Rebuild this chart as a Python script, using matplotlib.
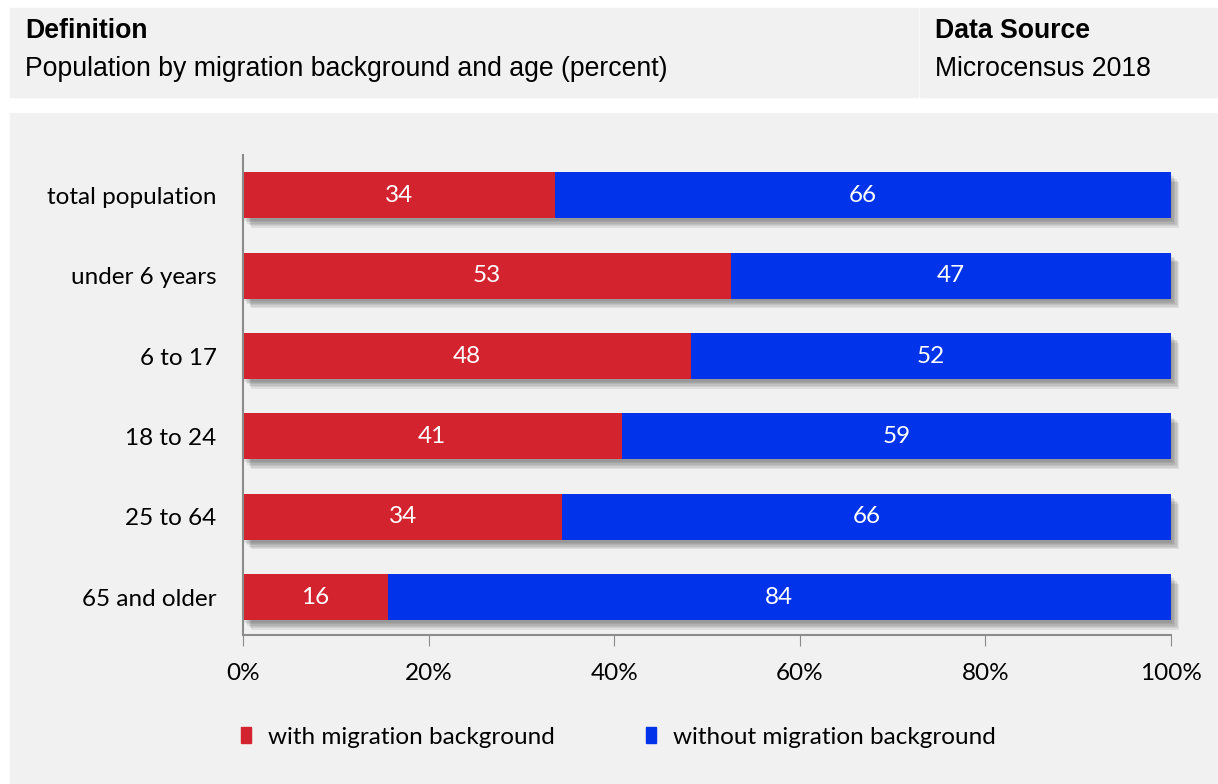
import matplotlib.pyplot as plt
import matplotlib.patheffects as pe
from matplotlib.patches import Rectangle, Patch

categories = ['total population', 'under 6 years', '6 to 17', '18 to 24', '25 to 64', '65 and older']
with_mig = [33.6, 52.6, 48.3, 40.8, 34.4, 15.6]
without_mig = [66.4, 47.4, 51.7, 59.2, 65.6, 84.4]
with_labels = [34, 53, 48, 41, 34, 16]
without_labels = [66, 47, 52, 59, 66, 84]

red = '#D2232E'
blue = '#0033EA'
panel = '#F1F1F1'

fig = plt.figure(figsize=(12.18, 7.84), dpi=100)
fig.patch.set_facecolor('white')

# header panels
fig.patches.append(Rectangle((10/1218, 1 - 97/784), 908/1218, 89/784,
                             transform=fig.transFigure, color=panel, zorder=-10))
fig.patches.append(Rectangle((920/1218, 1 - 97/784), 298/1218, 89/784,
                             transform=fig.transFigure, color=panel, zorder=-10))
# chart panel
fig.patches.append(Rectangle((10/1218, 0), 1208/1218, 1 - 113/784,
                             transform=fig.transFigure, color=panel, zorder=-10))

hfont = 'Liberation Sans'
hs = 19.2
fig.text(25/1218, 1 - 31/784, 'Definition', fontsize=hs, fontweight='bold',
         family=hfont, va='center', ha='left')
fig.text(25/1218, 1 - 69/784, 'Population by migration background and age (percent)',
         fontsize=hs, family=hfont, va='center', ha='left')
fig.text(935/1218, 1 - 31/784, 'Data Source', fontsize=hs, fontweight='bold',
         family=hfont, va='center', ha='left')
fig.text(935/1218, 1 - 69/784, 'Microcensus 2018', fontsize=hs,
         family=hfont, va='center', ha='left')

ax = fig.add_axes([243/1218, 1 - 635/784, 928/1218, 480/784])
ax.set_facecolor('none')

font = 'Lato'
fs = 17.5
# soft drop shadow built from a few faint offset copies
shadow = [pe.SimplePatchShadow(offset=(d, -d - 1), shadow_rgbFace='black', alpha=0.07)
          for d in (1, 2, 3, 4, 5, 6)] + [pe.Normal()]
y = list(range(len(categories)))
b1 = ax.barh(y, with_mig, height=0.57, color=red, label='with migration background')
b2 = ax.barh(y, without_mig, left=with_mig, height=0.57, color=blue,
             label='without migration background')
for b in list(b1) + list(b2):
    b.set_path_effects(shadow)
    b.set_clip_on(False)

for i in y:
    ax.text(with_mig[i] / 2, i, str(with_labels[i]), color='white', fontsize=fs,
            family=font, ha='center', va='center')
    ax.text(with_mig[i] + without_mig[i] / 2, i, str(without_labels[i]), color='white',
            fontsize=fs, family=font, ha='center', va='center')

ax.set_ylim(5.47, -0.5)
ax.set_xlim(0, 100)
ax.set_yticks(y)
ax.set_yticklabels(categories, family=font, fontsize=fs)
ax.tick_params(axis='y', length=0, pad=19)
ax.set_xticks([0, 20, 40, 60, 80, 100])
ax.set_xticklabels(['0%', '20%', '40%', '60%', '80%', '100%'], family=font, fontsize=fs)
ax.tick_params(axis='x', length=8, color='#8c8c8c', pad=12, direction='out')
for s in ['top', 'right']:
    ax.spines[s].set_visible(False)
ax.spines['left'].set_color('#8c8c8c')
ax.spines['bottom'].set_color('#8c8c8c')
ax.spines['left'].set_linewidth(1.5)
ax.spines['bottom'].set_linewidth(1.5)

handles = [Patch(color=red), Patch(color=blue)]
fig.legend(handles, ['with migration background', 'without migration background'],
           loc='center left', bbox_to_anchor=(219/1218, 1 - 737/784), ncol=2,
           frameon=False, prop={'family': font, 'size': fs},
           handlelength=0.42, handleheight=0.62, handletextpad=0.7, columnspacing=3.75)

fig.savefig('out.png', dpi=100)
